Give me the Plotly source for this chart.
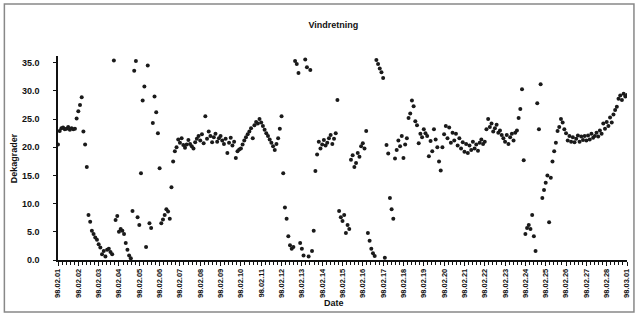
import pandas as pd
import plotly.graph_objects as go

# Wind direction readings (tens of degrees), one every 2 hours from 98.02.01 00:00
direction = [
    20.5, 22.9, 23.4, 23.5, 23.2, 23.3, 23.6, 23.1, 23.4, 23.2, 23.3, 25.1,   # 02.01
    26.4, 27.5, 28.9, 22.8, 20.5, 16.5, 8.0, 6.8, 5.2, 4.6, 4.0, 3.6,         # 02.02
    2.8, 2.2, 1.0, 1.6, 0.6, 1.8, 2.0, 1.4, 1.0, 35.4, 7.1, 7.8,              # 02.03
    5.0, 5.5, 5.2, 4.6, 3.0, 1.8, 0.8, 0.3, 8.7, 33.6, 35.3, 7.6,             # 02.04
    6.2, 15.4, 28.3, 30.8, 2.3, 34.5, 6.5, 5.7, 24.3, 29.0, 26.2, 22.5,       # 02.05
    16.3, 6.5, 7.2, 8.0, 9.0, 8.6, 7.3, 12.9, 17.5, 19.3, 20.0, 21.4,         # 02.06
    20.8, 21.6, 20.4, 19.9, 20.5, 21.3, 20.6, 20.2, 19.8, 20.9, 21.5, 22.0,   # 02.07
    21.2, 22.3, 20.7, 25.5, 21.5, 22.8, 22.0, 20.9, 21.8, 22.4, 21.0, 21.6,   # 02.08
    22.0, 21.2, 20.6, 21.5, 19.0, 20.8, 21.7, 20.3, 21.0, 18.1, 19.3, 19.6,   # 02.09
    19.8, 20.5, 21.2, 21.8, 22.3, 22.8, 23.4, 21.6, 23.9, 24.5, 24.2, 25.0,   # 02.10
    24.4, 23.8, 23.1, 22.5, 22.0, 21.4, 20.8, 20.2, 19.5, 20.6, 21.6, 23.3,   # 02.11
    25.5, 15.4, 9.3, 7.3, 4.2, 2.6, 2.0, 2.3, 35.3, 34.8, 33.2, 3.0,          # 02.12
    2.0, 0.8, 35.6, 34.2, 0.6, 33.7, 1.6, 5.2, 15.8, 18.7, 21.0, 19.8,        # 02.13
    20.5, 21.3, 20.3, 20.8, 21.6, 22.2, 20.6, 21.5, 22.5, 28.4, 8.7, 7.6,     # 02.14
    6.9, 8.0, 4.8, 6.2, 5.5, 17.8, 18.6, 16.5, 17.2, 19.0, 18.3, 20.2,        # 02.15
    20.7, 19.8, 22.9, 4.8, 3.4, 2.0, 1.2, 0.7, 35.5, 34.8, 34.0, 33.3,        # 02.16
    32.3, 0.4, 20.4, 18.9, 11.0, 9.0, 7.3, 18.0, 19.5, 21.2, 20.2, 22.0,      # 02.17
    18.1, 20.5, 21.6, 25.2, 26.0, 28.3, 27.3, 24.6, 23.9, 20.7, 22.4, 21.8,   # 02.18
    23.2, 22.5, 22.0, 18.4, 21.1, 19.3, 23.2, 21.4, 20.0, 17.5, 15.9, 20.0,   # 02.19
    22.3, 23.8, 21.6, 23.5, 20.8, 22.6, 21.2, 22.4, 20.3, 21.6, 19.8, 20.9,   # 02.20
    19.2, 20.6, 19.0, 20.3, 19.5, 21.0, 19.8, 20.5, 19.4, 20.8, 21.4, 20.6,   # 02.21
    21.0, 23.2, 25.0, 23.6, 24.2, 22.8, 23.4, 24.0, 22.6, 23.0, 22.2, 21.6,   # 02.22
    21.0, 22.2, 20.6, 21.8, 22.4, 21.2, 22.6, 23.0, 25.2, 26.8, 30.3, 17.7,   # 02.23
    4.6, 5.7, 6.2, 5.5, 8.0, 4.2, 1.6, 27.8, 23.2, 31.2, 11.0, 12.4,          # 02.24
    13.7, 15.0, 6.7, 14.6, 17.5, 19.3, 20.8, 22.9, 23.6, 25.0, 24.4, 23.2,    # 02.25
    22.5, 21.2, 22.0, 21.0, 21.8, 20.9, 21.5, 22.1, 21.0, 21.9, 21.3, 22.0,   # 02.26
    21.2, 22.1, 21.4, 22.4, 21.7, 22.0, 22.6, 21.9, 23.0, 22.4, 24.2, 23.3,   # 02.27
    24.5, 23.8, 25.3, 24.4, 25.8, 26.6, 27.2, 28.6, 29.2, 28.4, 29.5, 29.0,   # 02.28
    29.3,                                                                     # 03.01
]
start = "1998-02-01 00:00"
step = "2h"
y_ticks = [0, 5, 10, 15, 20, 25, 30, 35]

times = pd.date_range(start, periods=len(direction), freq=step)

fig = go.Figure(
    go.Scatter(
        x=times,
        y=direction,
        mode="markers",
        marker=dict(symbol="circle", size=4, color="#1a1a1a"),
        showlegend=False,
    )
)

W, H = 641, 329
L, R, T, B = 58, 10, 56, 69
pw, ph = W - L - R, H - T - B

def px_x(x):
    return (x - L) / pw

def px_y(y):
    return (H - B - y) / ph

bold = dict(family="Liberation Sans, Arial, sans-serif", color="#111", weight="bold")

fig.update_layout(
    width=W,
    height=H,
    margin=dict(l=L, r=R, t=T, b=B),
    paper_bgcolor="white",
    plot_bgcolor="white",
    title=dict(
        text="Vindretning",
        x=0.52,
        xref="container",
        y=1 - 25 / H,
        yref="container",
        xanchor="center",
        yanchor="middle",
        font=dict(size=9, **bold),
    ),
    xaxis=dict(
        type="date",
        range=["1998-02-01", "1998-03-01"],
        tick0="1998-02-01",
        dtick=86400000,
        tickformat="%y.%m.%d",
        tickangle=-90,
        tickfont=dict(size=7.5, **bold),
        ticks="outside",
        ticklen=4,
        tickcolor="#111",
        minor=dict(dtick=17280000, ticks="outside", ticklen=3, tickcolor="#111"),
        showline=True,
        linecolor="#111",
        linewidth=1.5,
        showgrid=False,
        zeroline=False,
    ),
    yaxis=dict(
        range=[0, 36.2],
        tickvals=y_ticks,
        tickformat=".1f",
        tickfont=dict(size=9, **bold),
        ticks="outside",
        ticklen=3,
        tickcolor="#111",
        ticklabelstandoff=12,
        showline=True,
        linecolor="#111",
        linewidth=1.5,
        showgrid=False,
        zeroline=False,
    ),
    annotations=[
        dict(
            text="Dekagrader",
            xref="paper", yref="paper",
            x=px_x(14), y=px_y(158),
            xanchor="center", yanchor="middle",
            textangle=-90,
            showarrow=False,
            font=dict(size=9, **bold),
        ),
        dict(
            text="Date",
            xref="paper", yref="paper",
            x=px_x(336), y=px_y(303),
            xanchor="center", yanchor="middle",
            showarrow=False,
            font=dict(size=9, **bold),
        ),
    ],
    shapes=[
        dict(
            type="rect",
            xref="paper", yref="paper",
            x0=px_x(4), x1=px_x(638),
            y0=px_y(312), y1=px_y(4),
            line=dict(color="#888", width=1.5),
            fillcolor="rgba(0,0,0,0)",
            layer="below",
        )
    ],
)

fig.write_html("out.html")
